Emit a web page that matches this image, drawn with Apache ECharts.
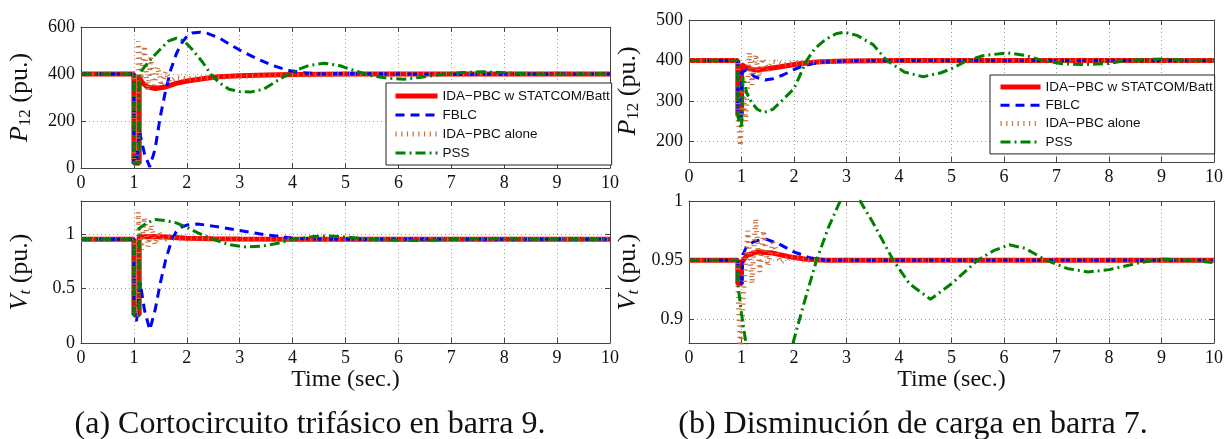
<!DOCTYPE html>
<html><head><meta charset="utf-8">
<script src="https://cdn.jsdelivr.net/npm/echarts@6/dist/echarts.min.js"></script>
<style>html,body{margin:0;padding:0;background:#fff}#c{width:1232px;height:439px}</style>
</head><body><div id="c"></div>
<script>
// ---------- data ----------
const seriesNames = ['IDA\u2212PBC w STATCOM/Batt', 'FBLC', 'IDA\u2212PBC alone', 'PSS'];
const xTickValues = [0,1,2,3,4,5,6,7,8,9,10];
const yTicksAP = [0,200,400,600];
const yTicksAV = [0,0.5,1];
const yTicksBP = [200,300,400,500];
const yTicksBV = [0.9,0.95,1];
const captionA = '(a) Cortocircuito trifásico en barra 9.';
const captionB = '(b) Disminución de carga en barra 7.';
const xName = 'Time (sec.)';

// (a) P12
const aP_red = [[0,400],[1.0,400],[1.0,20],[1.1,20],[1.1,390],[1.15,365],[1.25,345],[1.4,338],[1.6,345],[1.8,360],[2.0,370],[2.3,380],[2.6,388],[3.0,393],[3.5,396],[4.0,398],[5,400],[10,400]];
const aP_blue = [[0,400],[1.0,400],[1.0,20],[1.05,15],[1.1,160],[1.2,60],[1.3,5],[1.4,80],[1.5,220],[1.6,330],[1.7,420],[1.8,485],[1.9,530],[2.0,560],[2.1,574],[2.25,578],[2.4,572],[2.6,555],[2.8,528],[3.0,502],[3.3,468],[3.6,438],[3.9,416],[4.2,405],[4.6,400],[5.0,402],[6,400],[7,398],[8,400],[10,400]];
const aP_brown = [[0,400],[1.0,400],[1.0,20],[1.08,20],[1.08,540],[1.14,380],[1.2,520],[1.26,330],[1.32,470],[1.38,340],[1.45,430],[1.52,350],[1.6,410],[1.68,365],[1.8,385],[2.0,380],[2.5,385],[3.0,390],[4.0,395],[5,398],[6,399],[10,400]];
const aP_green = [[0,400],[1.0,400],[1.0,20],[1.1,20],[1.1,400],[1.2,430],[1.35,470],[1.5,505],[1.65,540],[1.8,552],[1.95,540],[2.1,505],[2.3,450],[2.45,400],[2.6,365],[2.8,335],[3.0,325],[3.2,323],[3.45,335],[3.7,370],[4.0,410],[4.3,436],[4.6,446],[4.9,435],[5.2,412],[5.5,392],[5.8,382],[6.1,378],[6.4,385],[6.8,398],[7.2,406],[7.6,410],[8.0,405],[8.5,400],[9.0,398],[9.5,400],[10,400]];

// (a) Vt
const aV_red = [[0,0.95],[1.0,0.95],[1.0,0.26],[1.1,0.26],[1.1,0.97],[1.3,0.975],[1.6,0.97],[2.0,0.96],[2.5,0.955],[3,0.952],[4,0.95],[10,0.95]];
const aV_blue = [[0,0.95],[1.0,0.95],[1.0,0.25],[1.05,0.2],[1.12,0.55],[1.2,0.3],[1.3,0.12],[1.4,0.3],[1.5,0.55],[1.6,0.76],[1.7,0.92],[1.8,1.02],[1.9,1.06],[2.0,1.08],[2.2,1.09],[2.5,1.07],[3.0,1.03],[3.5,0.99],[4.0,0.96],[4.5,0.95],[10,0.95]];
const aV_brown = [[0,0.95],[1.0,0.95],[1.0,0.26],[1.08,0.26],[1.08,1.2],[1.14,0.85],[1.2,1.15],[1.27,0.88],[1.33,1.08],[1.4,0.9],[1.47,1.02],[1.55,0.93],[1.65,0.98],[1.8,0.95],[2.0,0.955],[3,0.95],[10,0.95]];
const aV_green = [[0,0.95],[1.0,0.95],[1.0,0.25],[1.1,0.25],[1.1,1.05],[1.25,1.1],[1.4,1.13],[1.6,1.12],[1.8,1.1],[2.0,1.06],[2.2,1.01],[2.5,0.95],[2.8,0.9],[3.1,0.88],[3.4,0.885],[3.7,0.91],[4.0,0.95],[4.4,0.975],[4.7,0.98],[5.0,0.97],[5.5,0.95],[6.0,0.94],[6.4,0.938],[7.0,0.948],[7.6,0.956],[8.2,0.952],[9,0.95],[10,0.95]];

// (b) P12
const bP_red = [[0,400],[0.93,400],[0.93,265],[1.0,265],[1.0,390],[1.1,382],[1.25,377],[1.5,380],[1.8,386],[2.1,392],[2.5,397],[3,399],[4,400],[10,400]];
const bP_blue = [[0,400],[0.93,400],[0.93,262],[1.0,262],[1.0,370],[1.1,378],[1.25,360],[1.45,352],[1.6,355],[1.8,365],[2.0,378],[2.2,388],[2.5,396],[3,399],[4,400],[10,400]];
const bP_brown = [[0,400],[0.93,400],[0.93,265],[0.98,190],[1.03,330],[1.08,250],[1.15,420],[1.2,340],[1.27,415],[1.33,360],[1.4,405],[1.5,375],[1.6,398],[1.8,390],[2.0,394],[2.5,397],[3,399],[10,400]];
const bP_green = [[0,400],[0.93,400],[0.93,262],[1.0,232],[1.03,360],[1.1,320],[1.2,295],[1.3,280],[1.42,272],[1.6,280],[1.8,305],[2.0,331],[2.24,400],[2.4,430],[2.6,452],[2.8,466],[2.95,470],[3.2,462],[3.5,440],[3.77,400],[4.1,372],[4.46,360],[4.8,370],[5.0,380],[5.3,400],[5.6,412],[6.06,419],[6.4,413],[6.74,400],[7.1,392],[7.58,390],[8.0,393],[8.3,400],[9.0,404],[9.5,401],[10,400]];

// (b) Vt
const bV_red = [[0,0.95],[0.93,0.95],[0.93,0.93],[1.0,0.93],[1.0,0.948],[1.1,0.954],[1.3,0.957],[1.6,0.956],[1.9,0.953],[2.2,0.951],[2.6,0.95],[10,0.95]];
const bV_blue = [[0,0.95],[0.93,0.95],[0.93,0.93],[1.0,0.93],[1.03,0.955],[1.1,0.962],[1.25,0.966],[1.45,0.968],[1.7,0.964],[2.0,0.957],[2.3,0.952],[2.6,0.95],[10,0.95]];
const bV_brown = [[0,0.95],[0.93,0.95],[0.93,0.93],[0.98,0.87],[1.05,0.93],[1.12,0.975],[1.2,0.93],[1.27,0.985],[1.35,0.94],[1.42,0.975],[1.5,0.945],[1.6,0.965],[1.75,0.948],[1.9,0.953],[2.2,0.95],[10,0.95]];
const bV_green = [[0,0.95],[0.93,0.95],[0.93,0.93],[1.0,0.905],[1.1,0.875],[1.3,0.85],[1.5,0.84],[1.8,0.855],[1.98,0.88],[2.2,0.915],[2.43,0.95],[2.65,0.977],[2.88,1.0],[3.07,1.01],[3.26,1.0],[3.5,0.982],[3.89,0.95],[4.2,0.93],[4.6,0.917],[5.0,0.93],[5.5,0.95],[5.8,0.958],[6.1,0.963],[6.4,0.96],[6.8,0.95],[7.2,0.943],[7.6,0.94],[8.0,0.942],[8.6,0.948],[9.0,0.951],[9.5,0.95],[10,0.948]];

// ---------- styling / layout ----------
const SERIF = 'Liberation Serif';
const lineStyles = [
  {color:'#ff0000', width:5, type:'solid'},
  {color:'#0000ff', width:3, type:[9,6]},
  {color:'#c8703f', width:5, type:[1.2,4.5]},
  {color:'#008000', width:3, type:[10,4,2,4]}
];
const panels = [
  {grid:{left:81, top:27, width:529, height:141}, min:0, max:600, ticks:yTicksAP, name:'{i|P}{s|12}{n| (pu.)}', data:[aP_red,aP_blue,aP_brown,aP_green], xname:''},
  {grid:{left:81, top:201, width:529, height:142}, min:0, max:1.3, ticks:yTicksAV, name:'{i|V}{si|t}{n| (pu.)}', data:[aV_red,aV_blue,aV_brown,aV_green], xname:xName},
  {grid:{left:689, top:20, width:525, height:142}, min:150, max:500, ticks:yTicksBP, name:'{i|P}{s|12}{n| (pu.)}', data:[bP_red,bP_blue,bP_brown,bP_green], xname:''},
  {grid:{left:689, top:201, width:525, height:142}, min:0.88, max:1.0, ticks:yTicksBV, name:'{i|V}{si|t}{n| (pu.)}', data:[bV_red,bV_blue,bV_brown,bV_green], xname:xName}
];
const axisCol = '#444';
const gridLine = {show:true, lineStyle:{color:'#9a9a9a', width:1, type:[1,3]}};
const tickLbl = {fontFamily:SERIF, fontSize:18, color:'#111'};
const nameRich = {
  i:{fontFamily:SERIF, fontStyle:'italic', fontSize:26, color:'#111'},
  s:{fontFamily:SERIF, fontSize:17, color:'#111', padding:[10,0,0,0]},
  si:{fontFamily:SERIF, fontStyle:'italic', fontSize:17, color:'#111', padding:[10,0,0,0]},
  n:{fontFamily:SERIF, fontSize:26, color:'#111'}
};

const grids = [], xAxes = [], yAxes = [], series = [];
panels.forEach((p, gi) => {
  grids.push(p.grid);
  const xBase = {type:'value', gridIndex:gi, min:0, max:10, interval:1,
    axisLine:{show:true, onZero:false, lineStyle:{color:axisCol, width:1}}};
  xAxes.push(Object.assign({}, xBase, {position:'bottom',
    axisTick:{show:true, inside:true, length:5, lineStyle:{color:axisCol}},
    axisLabel:Object.assign({margin:6}, tickLbl),
    splitLine:gridLine,
    name:p.xname, nameLocation:'middle', nameGap:24,
    nameTextStyle:{fontFamily:SERIF, fontSize:24, color:'#111'}}));
  xAxes.push(Object.assign({}, xBase, {position:'top',
    axisTick:{show:true, inside:true, length:5, lineStyle:{color:axisCol}},
    axisLabel:{show:false}, splitLine:{show:false}}));
  const yBase = {type:'value', gridIndex:gi, min:p.min, max:p.max,
    axisLine:{show:true, onZero:false, lineStyle:{color:axisCol, width:1}}};
  yAxes.push(Object.assign({}, yBase, {position:'left',
    axisTick:{show:true, inside:true, length:5, customValues:p.ticks, lineStyle:{color:axisCol}},
    axisLabel:Object.assign({margin:6, customValues:p.ticks}, tickLbl),
    splitLine:gridLine,
    name:p.name, nameLocation:'middle', nameGap:47, nameRotate:90,
    nameTextStyle:{rich:nameRich}}));
  yAxes.push(Object.assign({}, yBase, {position:'right',
    axisTick:{show:true, inside:true, length:5, customValues:p.ticks, lineStyle:{color:axisCol}},
    axisLabel:{show:false}, splitLine:{show:false}}));
  p.data.forEach((d, si) => {
    series.push({type:'line', name:seriesNames[si], data:d,
      xAxisIndex:gi*2, yAxisIndex:gi*2, showSymbol:false, symbol:'none',
      clip:true, color:lineStyles[si].color, itemStyle:{color:lineStyles[si].color},
      lineStyle:lineStyles[si], z:2+si, silent:true});
  });
});

const legendBase = {orient:'vertical', itemWidth:42, itemHeight:14,
  backgroundColor:'#fff', borderColor:'#222', borderWidth:1, borderRadius:0,
  textStyle:{fontFamily:'Liberation Sans', fontSize:13.5, color:'#111'},
  itemStyle:{opacity:0, borderWidth:0, color:'transparent'},
  lineStyle:{width:'inherit', type:'inherit', color:'inherit'},
  data:seriesNames, selectedMode:false, z:10};

const option = {
  animation:false,
  backgroundColor:'#fff',
  grid:grids, xAxis:xAxes, yAxis:yAxes, series:series,
  legend:[
    Object.assign({}, legendBase, {left:386, top:83, itemGap:5, padding:[6,2,5,7]}),
    Object.assign({}, legendBase, {left:990, top:75, itemGap:4.3, padding:[5,2,5,8], itemWidth:40})
  ],
  graphic:[
    {type:'text', x:310, y:425, style:{text:captionA, font:'32px "Liberation Serif"', fill:'#111', textAlign:'center', textVerticalAlign:'middle'}},
    {type:'text', x:913, y:425, style:{text:captionB, font:'32px "Liberation Serif"', fill:'#111', textAlign:'center', textVerticalAlign:'middle'}}
  ]
};
const chart = echarts.init(document.getElementById('c'), null, {renderer:'canvas'});
chart.setOption(option);
</script>
</body></html>
